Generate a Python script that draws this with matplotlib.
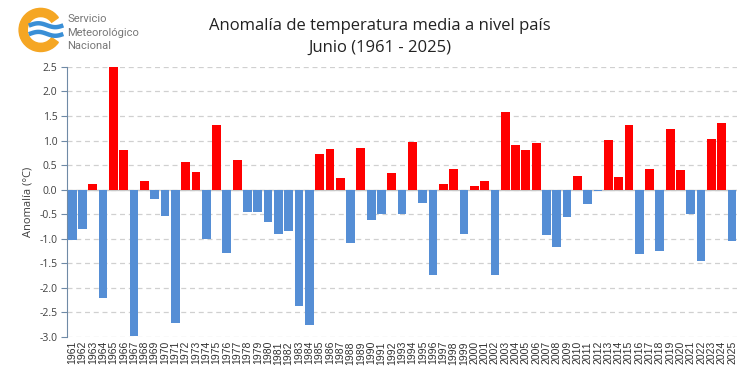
import numpy as np
import matplotlib.pyplot as plt
from matplotlib.patches import Wedge

years = list(range(1961, 2026))
anomalia = [-1.03, -0.80, 0.12, -2.21, 2.50, 0.81, -2.98, 0.18, -0.20, -0.54,
            -2.71, 0.57, 0.35, -1.01, 1.32, -1.29, 0.61, -0.46, -0.46, -0.66,
            -0.91, -0.85, -2.37, -2.76, 0.73, 0.83, 0.24, -1.09, 0.85, -0.62,
            -0.49, 0.33, -0.49, 0.96, -0.28, -1.74, 0.12, 0.41, -0.91, 0.08,
            0.18, -1.74, 1.59, 0.90, 0.81, 0.94, -0.93, -1.17, -0.56, 0.28,
            -0.30, -0.03, 1.02, 0.26, 1.32, -1.32, 0.43, -1.25, 1.24, 0.39,
            -0.50, -1.46, 1.04, 1.36, -1.05]
yticks = [-3.0, -2.5, -2.0, -1.5, -1.0, -0.5, 0.0, 0.5, 1.0, 1.5, 2.0, 2.5]

fig = plt.figure(figsize=(7.53, 3.89), dpi=100)
ax = fig.add_axes([0.089, 0.134, 0.89, 0.694])

x = np.arange(len(years))
colores = ['#ff0000' if v > 0 else '#558ed5' for v in anomalia]
ax.bar(x, anomalia, width=0.85, color=colores, zorder=3)

ax.set_xlim(-0.5, len(years) - 0.5)
ax.set_ylim(-3.0, 2.5)
ax.set_yticks(yticks)
ax.set_yticklabels([f'{t:.1f}' for t in yticks], fontsize=7.5, family='Open Sans', color='#404040')
ax.set_xticks(x)
ax.set_xticklabels([str(a) for a in years], rotation=90, fontsize=7.5, family='Liberation Sans',
                   color='#303030')
ax.tick_params(axis='x', length=0, pad=3)
ax.tick_params(axis='y', length=4, color='#6f8aa6', direction='out', pad=3)
ax.yaxis.grid(True, linestyle=(0, (4, 3)), color='#d0d0d0', linewidth=0.9, zorder=0)
ax.axhline(0, color='#c8c8c8', linewidth=1, zorder=2)
for s in ['top', 'right', 'bottom']:
    ax.spines[s].set_visible(False)
ax.spines['left'].set_color('#6f8aa6')
ax.set_ylabel('Anomalía (°C)', fontsize=8, family='Open Sans', color='#404040', labelpad=4)

fig.text(0.504, 0.933, 'Anomalía de temperatura media a nivel país', ha='center', va='center',
         fontsize=12, family='Open Sans', color='#222222')
fig.text(0.504, 0.876, 'Junio (1961 - 2025)', ha='center', va='center',
         fontsize=12, family='Open Sans', color='#222222')

# logo
lg = fig.add_axes([0.020, 0.862, 0.068, 0.122])
lg.set_xlim(-1.1, 1.1)
lg.set_ylim(-1.1, 1.1)
lg.set_aspect('equal')
lg.axis('off')
lg.add_patch(Wedge((0, 0), 1.0, 35, 325, width=0.38, color='#f5a623'))
t = np.linspace(-0.55, 1.05, 50)
for yo in [0.22, -0.18]:
    lg.plot(t, yo + 0.09 * np.sin((t + 0.5) * 4.0), color='#3a8fd6', linewidth=3.2, solid_capstyle='butt')
fig.text(0.089, 0.951, 'Servicio', fontsize=8, family='Roboto', color='#777777', va='center')
fig.text(0.089, 0.916, 'Meteorológico', fontsize=8, family='Roboto', color='#777777', va='center')
fig.text(0.089, 0.881, 'Nacional', fontsize=8, family='Roboto', color='#777777', va='center')

fig.savefig('out.png', dpi=100)
